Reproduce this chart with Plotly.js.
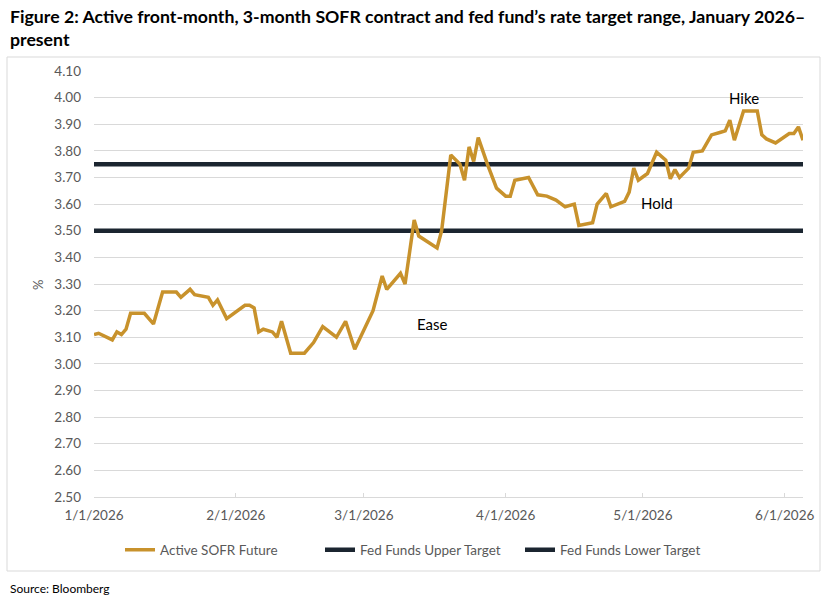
<!DOCTYPE html>
<html>
<head>
<meta charset="utf-8">
<script src="https://cdn.plot.ly/plotly-3.0.1.min.js"></script>
<style>
  html, body { margin: 0; padding: 0; background: #ffffff; }
  #chart { width: 825px; height: 599px; }
</style>
</head>
<body>
<div id="chart"></div>
<script>
// Active front-month 3-month SOFR future (implied rate, %)
const sofrDates = [
  '2026-01-01','2026-01-02','2026-01-05','2026-01-06','2026-01-07','2026-01-08','2026-01-09',
  '2026-01-12','2026-01-14','2026-01-16','2026-01-19','2026-01-20','2026-01-22','2026-01-23',
  '2026-01-26','2026-01-27','2026-01-28','2026-01-30','2026-02-03','2026-02-04','2026-02-05',
  '2026-02-06','2026-02-07','2026-02-09','2026-02-10','2026-02-11','2026-02-13','2026-02-16',
  '2026-02-18','2026-02-20','2026-02-23','2026-02-25','2026-02-27','2026-03-03','2026-03-05',
  '2026-03-06','2026-03-09','2026-03-10','2026-03-12','2026-03-13','2026-03-17','2026-03-18',
  '2026-03-20','2026-03-22','2026-03-23','2026-03-24','2026-03-25','2026-03-26','2026-03-28',
  '2026-03-30','2026-04-01','2026-04-02','2026-04-03','2026-04-06','2026-04-08','2026-04-10',
  '2026-04-12','2026-04-14','2026-04-16','2026-04-17','2026-04-20','2026-04-21','2026-04-23',
  '2026-04-24','2026-04-27','2026-04-28','2026-04-29','2026-04-30','2026-05-02','2026-05-04',
  '2026-05-06','2026-05-07','2026-05-08','2026-05-09','2026-05-11','2026-05-12','2026-05-14',
  '2026-05-16','2026-05-18','2026-05-19','2026-05-20','2026-05-21','2026-05-23','2026-05-26',
  '2026-05-27','2026-05-28','2026-05-30','2026-06-02','2026-06-03','2026-06-04','2026-06-05'
];
const sofrValues = [
  3.11, 3.115, 3.09, 3.12, 3.11, 3.13, 3.19,
  3.19, 3.15, 3.27, 3.27, 3.25, 3.28, 3.26,
  3.25, 3.22, 3.24, 3.17, 3.22, 3.22, 3.21,
  3.12, 3.13, 3.12, 3.10, 3.16, 3.04, 3.04,
  3.08, 3.14, 3.10, 3.16, 3.055, 3.20, 3.33,
  3.28, 3.34, 3.30, 3.54, 3.48, 3.435, 3.50,
  3.785, 3.75, 3.69, 3.815, 3.76, 3.85, 3.75,
  3.66, 3.63, 3.63, 3.69, 3.70, 3.635, 3.63,
  3.615, 3.59, 3.60, 3.52, 3.53, 3.60, 3.64,
  3.59, 3.61, 3.645, 3.735, 3.69, 3.715, 3.795,
  3.765, 3.695, 3.73, 3.70, 3.735, 3.795, 3.80,
  3.86, 3.87, 3.875, 3.915, 3.84, 3.95, 3.95,
  3.86, 3.845, 3.83, 3.865, 3.865, 3.89, 3.84
];

// Fed funds target range bounds over the same window
const targetDates = ['2026-01-01', '2026-06-05'];
const upperTarget = [3.75, 3.75];
const lowerTarget = [3.50, 3.50];

// Axis ticks
const xTickVals = ['2026-01-01','2026-02-01','2026-03-01','2026-04-01','2026-05-01','2026-06-01'];
const xTickText = ['1/1/2026','2/1/2026','3/1/2026','4/1/2026','5/1/2026','6/1/2026'];
const yTickVals = [2.5,2.6,2.7,2.8,2.9,3.0,3.1,3.2,3.3,3.4,3.5,3.6,3.7,3.8,3.9,4.0,4.1];

// Regime labels
const regimeLabels = ['Ease', 'Hold', 'Hike'];
const regimeX = ['2026-03-16', '2026-05-04', '2026-05-23'];
const regimeY = [3.15, 3.605, 3.998];

const GOLD = '#c8922c';
const NAVY = '#1b2530';
const TXT = '#595959';
const FONT = 'Lato, "Open Sans", sans-serif';

// plot-area geometry in pixels (for paper-coordinate placement)
const W = 825, H = 599, L = 94, R = 22, T = 71, B = 102;
const pw = W - L - R, ph = H - T - B;
const px = v => (v - L) / pw;
const py = v => (H - B - v) / ph;

const traces = [
  {
    x: targetDates, y: upperTarget, type: 'scatter', mode: 'lines',
    name: 'Fed Funds Upper Target', legendrank: 2,
    line: { color: NAVY, width: 4.5 }, hoverinfo: 'skip'
  },
  {
    x: targetDates, y: lowerTarget, type: 'scatter', mode: 'lines',
    name: 'Fed Funds Lower Target', legendrank: 3,
    line: { color: NAVY, width: 4.5 }, hoverinfo: 'skip'
  },
  {
    x: sofrDates, y: sofrValues, type: 'scatter', mode: 'lines',
    name: 'Active SOFR Future', legendrank: 1,
    line: { color: GOLD, width: 3.5 }
  }
];

const annotations = [
  { text: '<b>Figure 2: Active front-month, 3-month SOFR contract and fed fund\u2019s rate target range, January 2026\u2013</b>',
    xref: 'paper', yref: 'paper', x: px(8), y: py(16), xanchor: 'left', yanchor: 'middle',
    showarrow: false, font: { family: FONT, size: 17.7, color: '#000000' } },
  { text: '<b>present</b>',
    xref: 'paper', yref: 'paper', x: px(8), y: py(40), xanchor: 'left', yanchor: 'middle',
    showarrow: false, font: { family: FONT, size: 17.7, color: '#000000' } },
  { text: 'Source: Bloomberg',
    xref: 'paper', yref: 'paper', x: px(8), y: py(588), xanchor: 'left', yanchor: 'middle',
    showarrow: false, font: { family: FONT, size: 12, color: '#000000' } },
  { text: '%',
    xref: 'paper', yref: 'paper', x: px(38), y: py(285), xanchor: 'center', yanchor: 'middle',
    textangle: -90, showarrow: false, font: { family: FONT, size: 13, color: TXT } }
];
regimeLabels.forEach((t, i) => {
  annotations.push({
    text: t, x: regimeX[i], y: regimeY[i], xref: 'x', yref: 'y',
    showarrow: false, xanchor: 'center', yanchor: 'middle',
    font: { family: FONT, size: 15, color: '#000000' }
  });
});

const layout = {
  width: W, height: H,
  margin: { l: L, r: R, t: T, b: B, pad: 0 },
  paper_bgcolor: '#ffffff', plot_bgcolor: '#ffffff',
  font: { family: FONT, size: 13.5, color: TXT },
  showlegend: true,
  legend: {
    orientation: 'h', x: px(120), xanchor: 'left', y: py(550), yanchor: 'middle',
    font: { family: FONT, size: 13.5, color: TXT }, itemwidth: 30,
    entrywidth: 155, entrywidthmode: 'pixels',
    traceorder: 'normal', bgcolor: 'rgba(0,0,0,0)'
  },
  xaxis: {
    type: 'date', range: ['2026-01-01', '2026-06-05'],
    tickmode: 'array', tickvals: xTickVals, ticktext: xTickText,
    showgrid: false, zeroline: false,
    showline: true, linecolor: '#d9d9d9', linewidth: 1,
    ticks: 'inside', ticklen: 4, tickcolor: '#d9d9d9', ticklabelstandoff: 6,
    tickfont: { family: FONT, size: 13.5, color: TXT }, fixedrange: true
  },
  yaxis: {
    range: [2.5, 4.1], tickmode: 'array', tickvals: yTickVals,
    tickformat: '.2f', showgrid: true, gridcolor: '#d9d9d9', gridwidth: 1,
    zeroline: false, showline: false, ticks: '', ticklabelstandoff: 12,
    tickfont: { family: FONT, size: 13.5, color: TXT }, fixedrange: true
  },
  shapes: [
    { type: 'rect', xref: 'paper', yref: 'paper', x0: px(7), x1: px(820), y0: py(57), y1: py(571),
      line: { color: '#d9d9d9', width: 1 }, fillcolor: 'rgba(0,0,0,0)', layer: 'below' }
  ],
  annotations: annotations
};

Plotly.newPlot('chart', traces, layout, { displayModeBar: false, staticPlot: true });
</script>
</body>
</html>
